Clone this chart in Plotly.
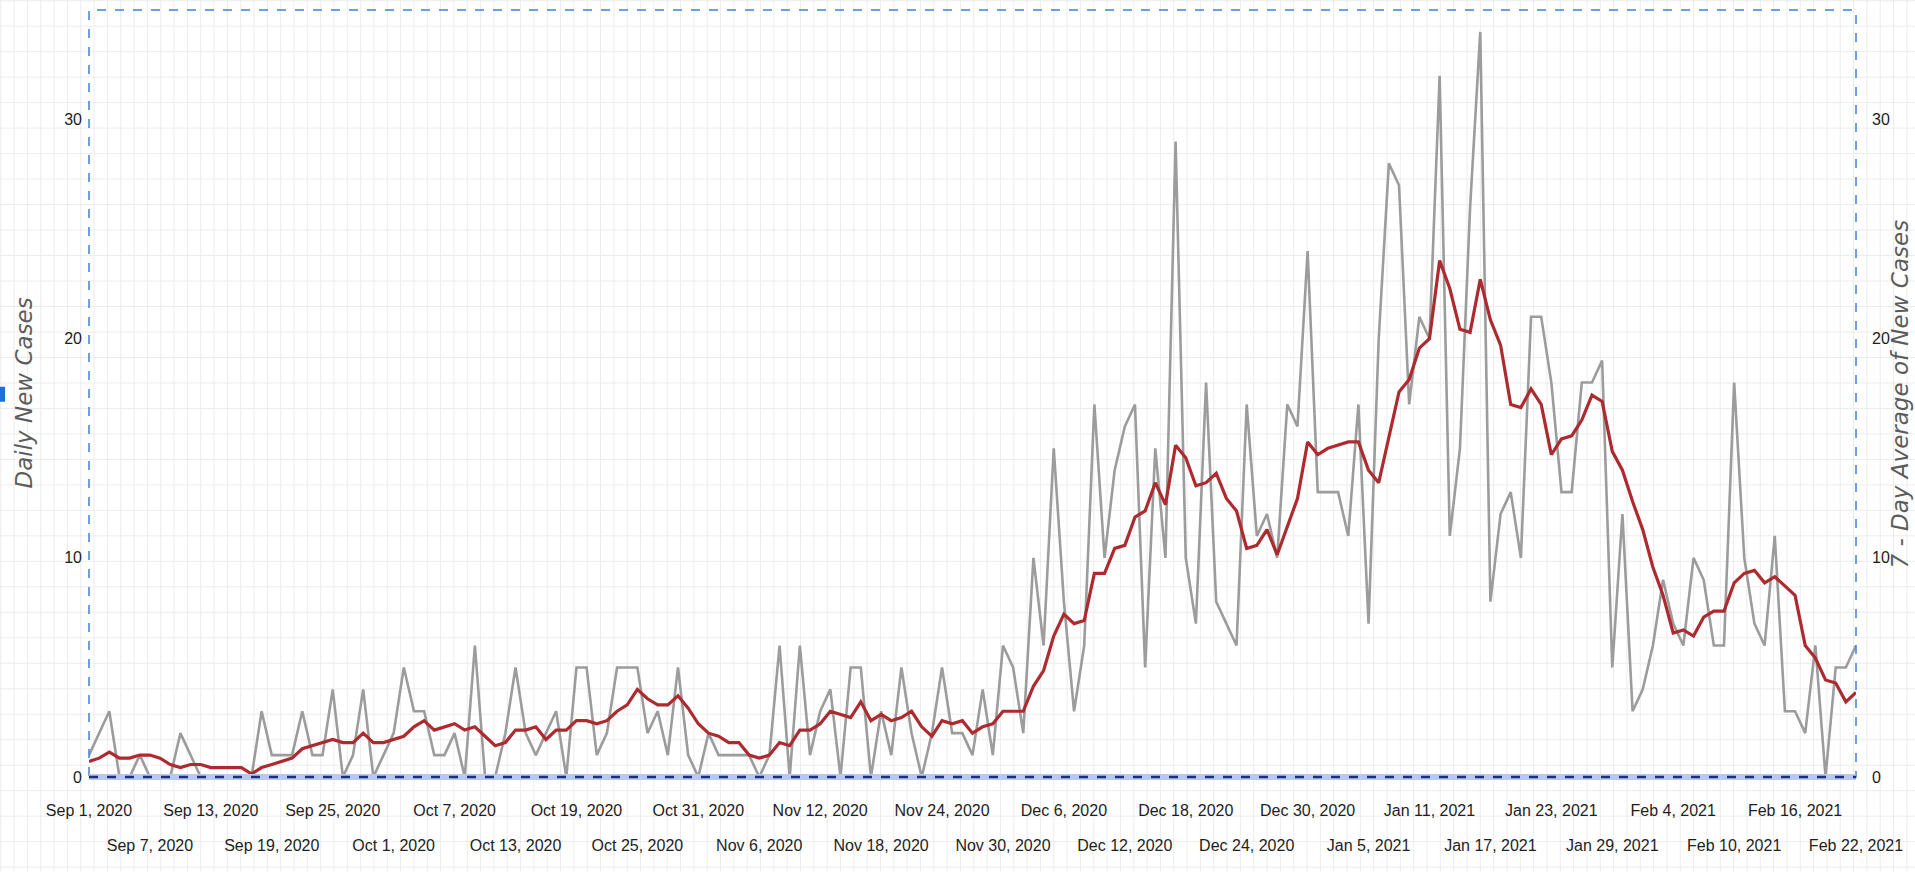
import plotly.graph_objects as go
import pandas as pd

# ---------------- data ----------------
dates = pd.date_range("2020-09-01", "2021-02-22", freq="D").strftime("%Y-%m-%d").tolist()

daily_new_cases = [
    1, 2, 3, 0, 0, 1, 0, 0, 0, 2, 1, 0, 0, 0, 0, 0, 0, 3, 1, 1,
    1, 3, 1, 1, 4, 0, 1, 4, 0, 1, 2, 5, 3, 3, 1, 1, 2, 0, 6, 0,
    0, 2, 5, 2, 1, 2, 3, 0, 5, 5, 1, 2, 5, 5, 5, 2, 3, 1, 5, 1,
    0, 2, 1, 1, 1, 1, 0, 1, 6, 0, 6, 1, 3, 4, 0, 5, 5, 0, 3, 1,
    5, 2, 0, 2, 5, 2, 2, 1, 4, 1, 6, 5, 2, 10, 6, 15, 8, 3, 6, 17,
    10, 14, 16, 17, 5, 15, 10, 29, 10, 7, 18, 8, 7, 6, 17, 11, 12, 10, 17, 16,
    24, 13, 13, 13, 11, 17, 7, 20, 28, 27, 17, 21, 20, 32, 11, 15, 26, 34, 8, 12,
    13, 10, 21, 21, 18, 13, 13, 18, 18, 19, 5, 12, 3, 4, 6, 9, 7, 6, 10, 9,
    6, 6, 18, 10, 7, 6, 11, 3, 3, 2, 6, 0, 5, 5, 6,
]

seven_day_avg = [
    0.71, 0.86, 1.14, 0.86, 0.86, 1.00, 1.00, 0.86, 0.57, 0.43,
    0.57, 0.57, 0.43, 0.43, 0.43, 0.43, 0.14, 0.43, 0.57, 0.71,
    0.86, 1.29, 1.43, 1.57, 1.71, 1.57, 1.57, 2.00, 1.57, 1.57,
    1.71, 1.86, 2.29, 2.57, 2.14, 2.29, 2.43, 2.14, 2.29, 1.86,
    1.43, 1.57, 2.14, 2.14, 2.29, 1.71, 2.14, 2.14, 2.57, 2.57,
    2.43, 2.57, 3.00, 3.29, 4.00, 3.57, 3.29, 3.29, 3.71, 3.14,
    2.43, 2.00, 1.86, 1.57, 1.57, 1.00, 0.86, 1.00, 1.57, 1.43,
    2.14, 2.14, 2.43, 3.00, 2.86, 2.71, 3.43, 2.57, 2.86, 2.57,
    2.71, 3.00, 2.29, 1.86, 2.57, 2.43, 2.57, 2.00, 2.29, 2.43,
    3.00, 3.00, 3.00, 4.14, 4.86, 6.43, 7.43, 7.00, 7.14, 9.29,
    9.29, 10.43, 10.57, 11.86, 12.14, 13.43, 12.43, 15.14, 14.57, 13.29,
    13.43, 13.86, 12.71, 12.14, 10.43, 10.57, 11.29, 10.14, 11.43, 12.71,
    15.29, 14.71, 15.00, 15.14, 15.29, 15.29, 14.00, 13.43, 15.57, 17.57,
    18.14, 19.57, 20.00, 23.57, 22.29, 20.43, 20.29, 22.71, 20.86, 19.71,
    17.00, 16.86, 17.71, 17.00, 14.71, 15.43, 15.57, 16.29, 17.43, 17.14,
    14.86, 14.00, 12.57, 11.29, 9.57, 8.29, 6.57, 6.71, 6.43, 7.29,
    7.57, 7.57, 8.86, 9.29, 9.43, 8.86, 9.14, 8.71, 8.29, 6.00,
    5.43, 4.43, 4.29, 3.43, 3.86,
]

tick_dates_row1 = ["2020-09-01", "2020-09-13", "2020-09-25", "2020-10-07", "2020-10-19",
                   "2020-10-31", "2020-11-12", "2020-11-24", "2020-12-06", "2020-12-18",
                   "2020-12-30", "2021-01-11", "2021-01-23", "2021-02-04", "2021-02-16"]
tick_text_row1 = ["Sep 1, 2020", "Sep 13, 2020", "Sep 25, 2020", "Oct 7, 2020", "Oct 19, 2020",
                  "Oct 31, 2020", "Nov 12, 2020", "Nov 24, 2020", "Dec 6, 2020", "Dec 18, 2020",
                  "Dec 30, 2020", "Jan 11, 2021", "Jan 23, 2021", "Feb 4, 2021", "Feb 16, 2021"]
tick_dates_row2 = ["2020-09-07", "2020-09-19", "2020-10-01", "2020-10-13", "2020-10-25",
                   "2020-11-06", "2020-11-18", "2020-11-30", "2020-12-12", "2020-12-24",
                   "2021-01-05", "2021-01-17", "2021-01-29", "2021-02-10", "2021-02-22"]
tick_text_row2 = ["Sep 7, 2020", "Sep 19, 2020", "Oct 1, 2020", "Oct 13, 2020", "Oct 25, 2020",
                  "Nov 6, 2020", "Nov 18, 2020", "Nov 30, 2020", "Dec 12, 2020", "Dec 24, 2020",
                  "Jan 5, 2021", "Jan 17, 2021", "Jan 29, 2021", "Feb 10, 2021", "Feb 22, 2021"]
y_ticks = [0, 10, 20, 30]

# ---------------- layout constants ----------------
W, H = 1915, 872
L, R, T, B = 89, 1856, 10, 777.5
PW, PH = R - L, B - T

TICK_FONT = dict(family="Liberation Sans, Arial", size=16, color="#1e1e1e")
TITLE_FONT = dict(family="DejaVu Sans, Liberation Sans, Arial", size=23, color="#5c5c5c")


def px_x(px):
    return (px - L) / PW


def px_y(py):
    return (B - py) / PH


fig = go.Figure()

fig.add_trace(go.Scatter(
    x=dates, y=daily_new_cases, name="Daily New Cases", mode="lines",
    line=dict(color="#9c9c9c", width=2.6), xaxis="x", yaxis="y",
))
fig.add_trace(go.Scatter(
    x=dates, y=seven_day_avg, name="7 - Day Average of New Cases", mode="lines",
    line=dict(color="#ad2a2f", width=3.2), xaxis="x2", yaxis="y2",
))

shapes = []
# faint graph-paper background over the whole page
gx = 0.7
while gx < W:
    shapes.append(dict(type="line", xref="paper", yref="paper", layer="below",
                       x0=px_x(gx), x1=px_x(gx), y0=px_y(0), y1=px_y(H),
                       line=dict(color="#ececec", width=1)))
    gx += 13.33
gy = 0.7
while gy < H:
    shapes.append(dict(type="line", xref="paper", yref="paper", layer="below",
                       x0=px_x(0), x1=px_x(W), y0=px_y(gy), y1=px_y(gy),
                       line=dict(color="#ececec", width=1)))
    gy += 25.5

# dashed blue selection frame round the plot area
shapes.append(dict(type="rect", xref="paper", yref="paper", x0=0, x1=1, y0=0, y1=1,
                   line=dict(color="#3f80d4", width=1.5, dash="dash"), layer="above"))
# bottom baseline (light band + navy dashes)
shapes.append(dict(type="line", xref="paper", yref="paper", x0=0, x1=1, y0=0, y1=0,
                   line=dict(color="#b9c8f2", width=6), layer="above"))
shapes.append(dict(type="line", xref="paper", yref="paper", x0=0, x1=1, y0=0, y1=0,
                   line=dict(color="#1c2f7c", width=2.5, dash="dash"), layer="above"))
# small blue handle at the left edge
shapes.append(dict(type="rect", xref="paper", yref="paper",
                   x0=px_x(0), x1=px_x(5), y0=px_y(402), y1=px_y(387),
                   fillcolor="#1f6fd8", line=dict(width=0), layer="above"))

fig.update_layout(
    width=W, height=H,
    margin=dict(l=L, r=W - R, t=T, b=H - B, autoexpand=False),
    paper_bgcolor="white", plot_bgcolor="rgba(0,0,0,0)",
    showlegend=False,
    shapes=shapes,
    xaxis=dict(
        type="date", range=[dates[0], dates[-1]],
        tickvals=tick_dates_row1, ticktext=tick_text_row1,
        tickfont=TICK_FONT, ticks="", ticklabelstandoff=22,
        showgrid=False, zeroline=False, showline=False,
    ),
    xaxis2=dict(
        type="date", range=[dates[0], dates[-1]], overlaying="x", side="bottom",
        anchor="y2",
        tickvals=tick_dates_row2, ticktext=tick_text_row2,
        tickfont=TICK_FONT, ticks="", ticklabelstandoff=57,
        showgrid=False, zeroline=False, showline=False,
    ),
    yaxis=dict(
        range=[0, 35], tickvals=y_ticks, tickfont=TICK_FONT, ticks="",
        ticklabelstandoff=6, showgrid=False, zeroline=False, showline=False,
    ),
    yaxis2=dict(
        range=[0, 35], tickvals=y_ticks, tickfont=TICK_FONT, ticks="",
        overlaying="y", side="right", anchor="x2",
        ticklabelstandoff=15, showgrid=False, zeroline=False, showline=False,
    ),
    annotations=[
        dict(text="<i>Daily New Cases</i>", xref="paper", yref="paper",
             x=px_x(23), y=0.5, textangle=-90, showarrow=False,
             xanchor="center", yanchor="middle", font=TITLE_FONT),
        dict(text="<i>7 - Day Average of New Cases</i>", xref="paper", yref="paper",
             x=px_x(1899), y=0.5, textangle=-90, showarrow=False,
             xanchor="center", yanchor="middle", font=TITLE_FONT),
    ],
)

fig.write_html("out.html", config={"displayModeBar": False},
               post_script="document.body.style.margin='0px';")
